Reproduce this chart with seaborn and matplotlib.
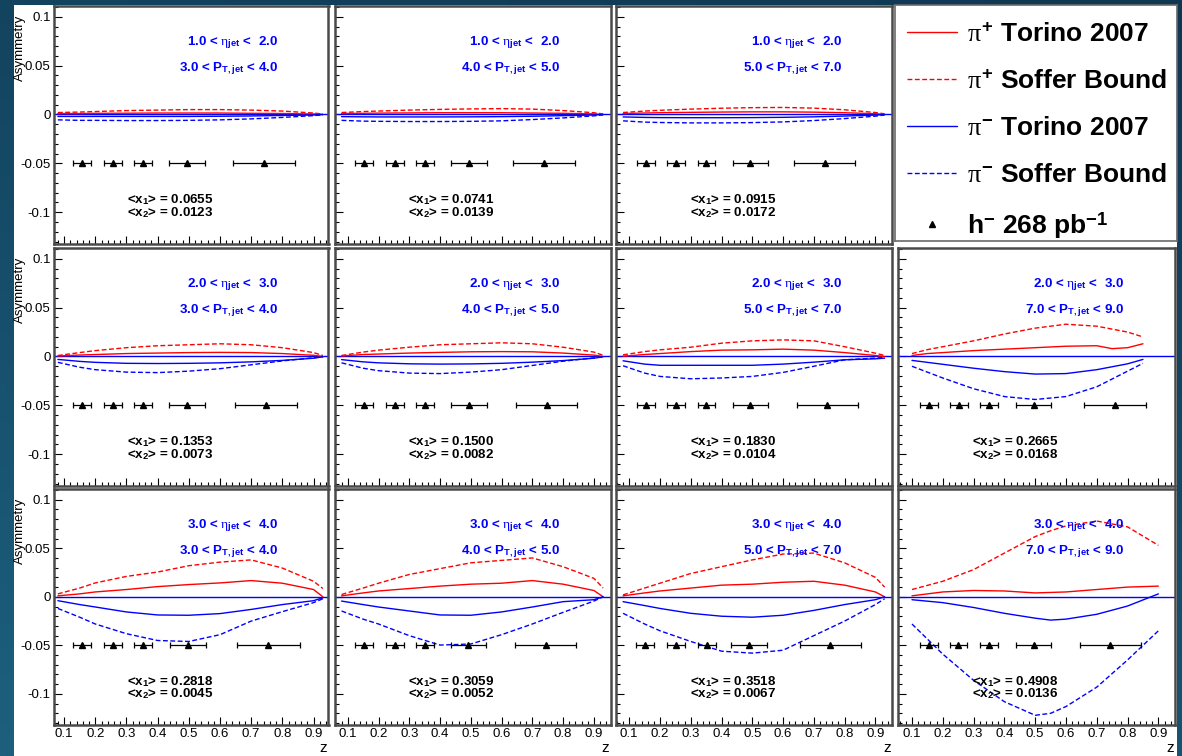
import numpy as np
import matplotlib
matplotlib.use("Agg")
import matplotlib.pyplot as plt
import matplotlib.lines as mlines
from matplotlib.patches import Rectangle
from matplotlib.ticker import FixedLocator, MultipleLocator, FuncFormatter
import seaborn as sns

# ---------------------------------------------------------------- data
# rapidity / transverse-momentum bins
ETA_BINS = [("1.0", "2.0"), ("2.0", "3.0"), ("3.0", "4.0")]
PT_BINS = [("3.0", "4.0"), ("4.0", "5.0"), ("5.0", "7.0"), ("7.0", "9.0")]

# mean parton momentum fractions per (eta row, pT column)
X1_MEAN = [["0.0655", "0.0741", "0.0915", None],
           ["0.1353", "0.1500", "0.1830", "0.2665"],
           ["0.2818", "0.3059", "0.3518", "0.4908"]]
X2_MEAN = [["0.0123", "0.0139", "0.0172", None],
           ["0.0073", "0.0082", "0.0104", "0.0168"],
           ["0.0045", "0.0052", "0.0067", "0.0136"]]

# z grids of the model curves
Z_LOW = [0.08, 0.15, 0.2, 0.3, 0.4, 0.5, 0.6, 0.7, 0.8, 0.9, 0.93]
Z_R2C4 = [0.1, 0.15, 0.2, 0.3, 0.4, 0.5, 0.6, 0.7, 0.75, 0.8, 0.85]
Z_R3C4 = [0.1, 0.2, 0.3, 0.4, 0.5, 0.55, 0.6, 0.7, 0.8, 0.9]
Z_GRID = [[Z_LOW, Z_LOW, Z_LOW, None],
          [Z_LOW, Z_LOW, Z_LOW, Z_R2C4],
          [Z_LOW, Z_LOW, Z_LOW, Z_R3C4]]

# pi+ Torino 2007
PIP_TORINO = [
    [[0.001, 0.001, 0.0012, 0.0013, 0.0015, 0.0015, 0.0015, 0.0012, 0.001, 0.0005, 0.0],
     [0.001, 0.0012, 0.0014, 0.0016, 0.0018, 0.0018, 0.0018, 0.0015, 0.0012, 0.0006, 0.0],
     [0.001, 0.0015, 0.0018, 0.0022, 0.0025, 0.0027, 0.0027, 0.0024, 0.0018, 0.0008, 0.0],
     None],
    [[0.0005, 0.0015, 0.002, 0.003, 0.0035, 0.004, 0.0042, 0.004, 0.003, 0.0012, 0.0],
     [0.0005, 0.002, 0.0025, 0.0035, 0.0042, 0.0048, 0.005, 0.0048, 0.0035, 0.0014, 0.0],
     [0.0003, 0.002, 0.003, 0.005, 0.0065, 0.0068, 0.0075, 0.0065, 0.004, 0.001, 0.0],
     [0.001, 0.003, 0.004, 0.006, 0.0075, 0.009, 0.0105, 0.011, 0.008, 0.009, 0.013]],
    [[0.001, 0.003, 0.005, 0.0075, 0.0105, 0.0126, 0.0143, 0.0167, 0.014, 0.0075, 0.0],
     [0.001, 0.004, 0.006, 0.0085, 0.011, 0.013, 0.014, 0.0167, 0.013, 0.0065, 0.0],
     [0.001, 0.004, 0.006, 0.009, 0.012, 0.013, 0.015, 0.016, 0.012, 0.005, 0.0],
     [0.001, 0.005, 0.0065, 0.006, 0.004, 0.0045, 0.005, 0.0075, 0.01, 0.011]],
]
# pi+ Soffer bound
PIP_SOFFER = [
    [[0.002, 0.0025, 0.003, 0.004, 0.0045, 0.005, 0.005, 0.0045, 0.0035, 0.0015, 0.0005],
     [0.002, 0.003, 0.0035, 0.0045, 0.0052, 0.0057, 0.006, 0.0055, 0.004, 0.0018, 0.0006],
     [0.002, 0.0035, 0.0043, 0.0055, 0.0064, 0.007, 0.0072, 0.0065, 0.0048, 0.002, 0.0007],
     None],
    [[0.001, 0.004, 0.006, 0.009, 0.011, 0.012, 0.013, 0.012, 0.009, 0.004, 0.001],
     [0.001, 0.0045, 0.0065, 0.0095, 0.012, 0.013, 0.014, 0.013, 0.0095, 0.0045, 0.0012],
     [0.0017, 0.005, 0.0068, 0.0095, 0.0136, 0.016, 0.017, 0.016, 0.010, 0.0034, 0.001],
     [0.003, 0.007, 0.01, 0.016, 0.023, 0.029, 0.033, 0.031, 0.028, 0.025, 0.02]],
    [[0.003, 0.009, 0.0143, 0.021, 0.0255, 0.032, 0.0357, 0.038, 0.0296, 0.016, 0.0085],
     [0.0024, 0.009, 0.014, 0.023, 0.029, 0.035, 0.0375, 0.040, 0.031, 0.019, 0.009],
     [0.002, 0.009, 0.014, 0.024, 0.031, 0.038, 0.044, 0.045, 0.035, 0.02, 0.01],
     [0.0075, 0.016, 0.028, 0.045, 0.062, 0.068, 0.073, 0.078, 0.072, 0.053]],
]
# pi- Torino 2007
PIM_TORINO = [
    [[-0.002, -0.002, -0.002, -0.002, -0.002, -0.002, -0.0018, -0.0015, -0.001, -0.0005, 0.0],
     [-0.0022, -0.0024, -0.0025, -0.0025, -0.0025, -0.0024, -0.0022, -0.0018, -0.0012, -0.0005, 0.0],
     [-0.0025, -0.003, -0.0032, -0.0033, -0.0033, -0.0032, -0.0029, -0.0024, -0.0016, -0.0006, 0.0],
     None],
    [[-0.003, -0.005, -0.006, -0.007, -0.0072, -0.007, -0.0065, -0.0055, -0.004, -0.0018, -0.0003],
     [-0.0032, -0.0055, -0.0065, -0.0075, -0.0078, -0.0076, -0.007, -0.0058, -0.0042, -0.0018, -0.0003],
     [-0.0044, -0.0078, -0.009, -0.009, -0.009, -0.009, -0.0078, -0.0058, -0.0034, -0.0024, -0.0017],
     [-0.004, -0.006, -0.008, -0.012, -0.0155, -0.018, -0.0175, -0.0135, -0.0105, -0.0075, -0.003]],
    [[-0.004, -0.008, -0.0105, -0.0156, -0.0187, -0.019, -0.0173, -0.013, -0.008, -0.004, -0.001],
     [-0.0044, -0.008, -0.0105, -0.0146, -0.0187, -0.019, -0.0156, -0.0105, -0.005, -0.003, 0.0],
     [-0.005, -0.009, -0.012, -0.017, -0.02, -0.021, -0.019, -0.014, -0.008, -0.003, 0.0],
     [-0.003, -0.006, -0.011, -0.017, -0.022, -0.024, -0.023, -0.018, -0.0095, 0.003]],
]
# pi- Soffer bound
PIM_SOFFER = [
    [[-0.0055, -0.006, -0.006, -0.0062, -0.0062, -0.006, -0.0055, -0.0045, -0.003, -0.0012, -0.0003],
     [-0.006, -0.0068, -0.007, -0.0072, -0.0072, -0.007, -0.0065, -0.0052, -0.0035, -0.0014, -0.0004],
     [-0.0065, -0.0078, -0.0082, -0.0086, -0.0086, -0.0083, -0.0076, -0.0062, -0.0042, -0.0017, -0.0005],
     None],
    [[-0.006, -0.011, -0.0135, -0.016, -0.0165, -0.015, -0.0125, -0.0085, -0.0045, -0.0013, -0.0003],
     [-0.0065, -0.012, -0.0145, -0.017, -0.0175, -0.016, -0.0135, -0.0092, -0.0048, -0.0014, -0.0003],
     [-0.0095, -0.017, -0.0204, -0.0228, -0.022, -0.0204, -0.0163, -0.010, -0.0034, -0.0017, -0.001],
     [-0.01, -0.016, -0.022, -0.033, -0.041, -0.044, -0.041, -0.031, -0.023, -0.015, -0.007]],
    [[-0.012, -0.021, -0.028, -0.038, -0.045, -0.046, -0.039, -0.025, -0.0153, -0.006, -0.002],
     [-0.0146, -0.023, -0.028, -0.040, -0.0497, -0.0486, -0.039, -0.028, -0.016, -0.0044, 0.0],
     [-0.017, -0.028, -0.035, -0.046, -0.056, -0.058, -0.055, -0.04, -0.025, -0.008, -0.002],
     [-0.028, -0.059, -0.086, -0.108, -0.122, -0.12, -0.113, -0.093, -0.065, -0.035]],
]

# h- data points: mean z of each bin, half bin width, plotted asymmetry level
DATA_Z = [
    [[0.158, 0.258, 0.354, 0.495, 0.742], [0.154, 0.253, 0.351, 0.494, 0.738],
     [0.154, 0.253, 0.351, 0.494, 0.735], None],
    [[0.158, 0.258, 0.354, 0.495, 0.748], [0.154, 0.253, 0.351, 0.494, 0.746],
     [0.154, 0.253, 0.351, 0.494, 0.744], [0.154, 0.252, 0.35, 0.495, 0.76]],
    [[0.158, 0.258, 0.354, 0.498, 0.755], [0.154, 0.253, 0.351, 0.492, 0.743],
     [0.152, 0.253, 0.352, 0.49, 0.754], [0.154, 0.251, 0.349, 0.495, 0.744]],
]
DATA_ZERR = [0.029, 0.029, 0.029, 0.058, 0.1]
DATA_ASYM = [-0.05, -0.05, -0.05, -0.05, -0.05]

LEGEND_LABELS = [r"$\pi^{\mathrm{+}}$ Torino 2007",
                 r"$\pi^{\mathrm{+}}$ Soffer Bound",
                 r"$\pi^{\mathrm{-}}$ Torino 2007",
                 r"$\pi^{\mathrm{-}}$ Soffer Bound",
                 r"h$^{\mathrm{-}}$ 268 pb$^{\mathrm{-1}}$"]

X_TICKS = [0.1, 0.2, 0.3, 0.4, 0.5, 0.6, 0.7, 0.8, 0.9]
Y_TICKS = [-0.1, -0.05, 0.0, 0.05, 0.1]
X_RANGE = [(0.066, 0.948), (0.057, 0.954), (0.057, 0.954), (0.053, 0.954)]
Y_RANGE = (-0.132, 0.111)

# ---------------------------------------------------------------- style
sns.set_theme(style="white")
plt.rcParams["font.family"] = ["Liberation Sans", "DejaVu Sans"]
plt.rcParams["text.color"] = "black"
plt.rcParams["mathtext.fontset"] = "custom"
plt.rcParams["mathtext.rm"] = "Liberation Sans:bold"
plt.rcParams["mathtext.bf"] = "Liberation Sans:bold"
plt.rcParams["mathtext.it"] = "Liberation Serif"
plt.rcParams["axes.unicode_minus"] = False

RED = "#ff0000"
BLUE = "#0000ff"
DASH = (0, (3.5, 1.8))
W, H = 1182, 756

fig = plt.figure(figsize=(W / 100, H / 100), dpi=100)

# dark gradient backdrop with the white canvas on top
bg = fig.add_axes([0, 0, 1, 1], zorder=-20)
bg.set_axis_off()
yy, xx = np.mgrid[0:1:120j, 0:1:200j]
t = np.clip(0.7 * yy + 0.3 * (1 - xx), 0, 1)[..., None]
c_top = np.array([15, 55, 82]) / 255
c_bot = np.array([28, 96, 126]) / 255
bg.imshow(c_top + (c_bot - c_top) * t, extent=[0, 1, 0, 1], aspect="auto", origin="upper")
bg.add_patch(Rectangle((14 / W, 0), (1177 - 14) / W, (756 - 5) / H,
                       facecolor="white", edgecolor="none"))
bg.set_xlim(0, 1)
bg.set_ylim(0, 1)

COL_L = [53.5, 334.5, 616, 897.5]
COL_R = [328.5, 610.5, 892, 1175]
ROW_T = [6, 248, 489]
ROW_B = [243.5, 485.5, 725]


def rect(l, r, t_, b):
    return [l / W, 1 - b / H, (r - l) / W, (b - t_) / H]


FRAME = "#4a4a4a"
TXT = 9.6

for r in range(3):
    for c in range(4):
        if r == 0 and c == 3:
            continue
        ax = fig.add_axes(rect(COL_L[c], COL_R[c], ROW_T[r], ROW_B[r]))
        ax.set_facecolor("white")
        z = Z_GRID[r][c]
        ax.axhline(0.0, color=BLUE, lw=1.0, zorder=2)
        for vals, col, ls in ((PIP_TORINO, RED, "-"), (PIP_SOFFER, RED, DASH),
                              (PIM_TORINO, BLUE, "-"), (PIM_SOFFER, BLUE, DASH)):
            sns.lineplot(x=z, y=vals[r][c], ax=ax, color=col, lw=1.0,
                         linestyle=ls, estimator=None, sort=False, legend=False,
                         zorder=3)
        ax.errorbar(DATA_Z[r][c], DATA_ASYM, xerr=DATA_ZERR, fmt="^", color="black",
                    ms=4.8, elinewidth=0.9, capsize=2.2, capthick=0.9, zorder=4)

        ax.set_xlim(*X_RANGE[c])
        ax.set_ylim(*Y_RANGE)
        ax.xaxis.set_major_locator(FixedLocator(X_TICKS))
        ax.xaxis.set_minor_locator(MultipleLocator(0.02))
        ax.yaxis.set_major_locator(FixedLocator(Y_TICKS))
        ax.yaxis.set_minor_locator(MultipleLocator(0.01))
        ax.xaxis.set_major_formatter(FuncFormatter(lambda v, p: f"{v:.1f}"))
        ax.yaxis.set_major_formatter(FuncFormatter(lambda v, p: f"{v:g}"))
        ax.tick_params(which="both", direction="in", left=True, bottom=True,
                       top=False, right=False, color="black", width=0.8,
                       labelsize=9.5, labelcolor="black", pad=2)
        ax.tick_params(which="major", length=5.5)
        ax.tick_params(which="minor", length=2.8)
        ax.tick_params(axis="y", labelleft=(c == 0))
        ax.tick_params(axis="x", labelbottom=(r == 2))
        ax.set_xlabel("")
        ax.set_ylabel("")
        for s in ax.spines.values():
            s.set_color(FRAME)
            s.set_linewidth(1.8)

        if c == 0:
            ax.text(-0.123, 0.965, "Asymmetry", rotation=90, ha="center", va="top",
                    fontsize=9.5, transform=ax.transAxes)
        if r == 2:
            ax.text(0.982, -0.097, "z", ha="center", va="center", fontsize=11,
                    transform=ax.transAxes)

        e0, e1 = ETA_BINS[r]
        p0, p1 = PT_BINS[c]
        ax.text(0.818, 0.846, rf"{e0} < $\eta_{{\mathrm{{jet}}}}$ <  {e1}",
                ha="right", va="center", color=BLUE, fontsize=TXT, fontweight="bold",
                transform=ax.transAxes, zorder=5)
        ax.text(0.818, 0.735, rf"{p0} < P$_{{\mathrm{{T,jet}}}}$ < {p1}",
                ha="right", va="center", color=BLUE, fontsize=TXT, fontweight="bold",
                transform=ax.transAxes, zorder=5)
        ax.text(0.268, 0.185, rf"<x$_{{\mathrm{{1}}}}$> = {X1_MEAN[r][c]}",
                ha="left", va="center", color="black", fontsize=TXT, fontweight="bold",
                transform=ax.transAxes, zorder=5)
        ax.text(0.268, 0.132, rf"<x$_{{\mathrm{{2}}}}$> = {X2_MEAN[r][c]}",
                ha="left", va="center", color="black", fontsize=TXT, fontweight="bold",
                transform=ax.transAxes, zorder=5)

# legend panel
lax = fig.add_axes(rect(895, 1177, 5, 241))
lax.set_xticks([])
lax.set_yticks([])
for s in lax.spines.values():
    s.set_color("#6a6a6a")
    s.set_linewidth(1.2)
handles = [
    mlines.Line2D([], [], color=RED, lw=1.0, ls="-"),
    mlines.Line2D([], [], color=RED, lw=1.0, ls=DASH),
    mlines.Line2D([], [], color=BLUE, lw=1.0, ls="-"),
    mlines.Line2D([], [], color=BLUE, lw=1.0, ls=DASH),
    mlines.Line2D([], [], color="black", marker="^", ms=4.5, ls="none"),
]
leg = lax.legend(handles, LEGEND_LABELS, loc="upper left", bbox_to_anchor=(0.042, 0.926),
                 frameon=False, prop={"family": "Liberation Sans", "weight": "bold", "size": 19},
                 handlelength=1.9, handletextpad=0.38, labelspacing=0.87, borderaxespad=0,
                 borderpad=0)
for txt in leg.get_texts():
    txt.set_color("black")

fig.savefig("out.png", dpi=100)
